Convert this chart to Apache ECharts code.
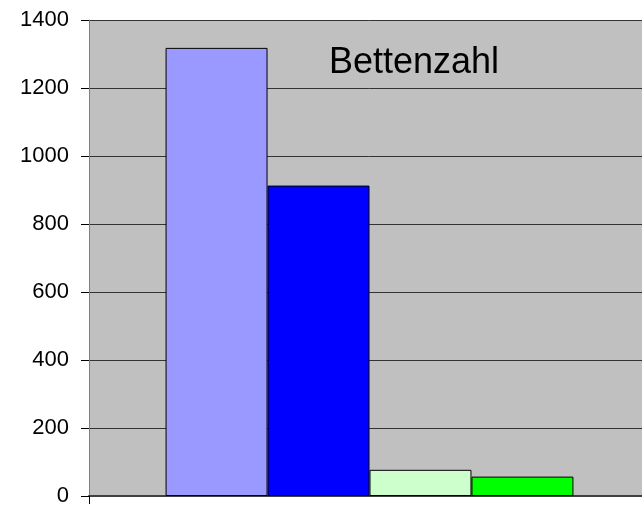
<!DOCTYPE html>
<html><head><meta charset="utf-8">
<script src="https://cdn.jsdelivr.net/npm/echarts@6/dist/echarts.min.js"></script>
<style>html,body{margin:0;padding:0;background:#fff;overflow:hidden}#c{width:650px;height:507px}</style>
</head><body><div id="c"></div>
<script>
const categories = ['Bettenzahl'];
const seriesNames = ['Serie 1', 'Serie 2', 'Serie 3', 'Serie 4'];
const seriesValues = [1318, 913, 77, 57];
const seriesColors = ['#9999ff', '#0000ff', '#ccffcc', '#00ff00'];
const yTicks = [0, 200, 400, 600, 800, 1000, 1200, 1400];

const chart = echarts.init(document.getElementById('c'), null, {renderer: 'canvas'});
chart.setOption({
  animation: false,
  backgroundColor: '#ffffff',
  title: {
    text: 'Bettenzahl', left: 324, top: 40,
    textStyle: {fontFamily: 'Liberation Sans', fontSize: 36, fontWeight: 'normal', color: '#000'}
  },
  grid: {left: 89, right: 0, top: 20, bottom: 10, show: true, backgroundColor: '#c0c0c0', borderWidth: 0},
  xAxis: {
    type: 'category', data: categories,
    axisLine: {show: true, lineStyle: {color: '#404040', width: 2}},
    axisTick: {show: true, length: 8, lineStyle: {color: '#000'}},
    axisLabel: {show: false}
  },
  yAxis: {
    type: 'value', min: yTicks[0], max: yTicks[yTicks.length - 1], interval: 200,
    axisLine: {show: true, lineStyle: {color: '#808080', width: 1}},
    axisTick: {show: true, length: 8, lineStyle: {color: '#000'}},
    axisLabel: {margin: 20, fontFamily: 'Liberation Sans', fontSize: 22, color: '#000', formatter: v => String(v)},
    splitLine: {show: true, lineStyle: {color: '#333', width: 1}}
  },
  series: seriesNames.map((n, i) => ({
    name: n, type: 'bar', data: [seriesValues[i]],
    barGap: '0%', barCategoryGap: '27.3%',
    itemStyle: {color: seriesColors[i], borderColor: '#000', borderWidth: 1}
  }))
});
</script></body></html>
